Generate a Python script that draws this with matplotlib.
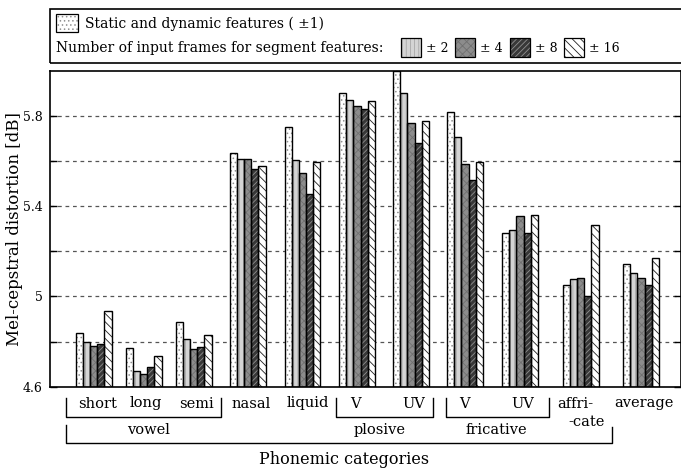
import numpy as np
import matplotlib.pyplot as plt
from matplotlib.patches import Rectangle
from matplotlib.lines import Line2D
import matplotlib.transforms as mtransforms

plt.rcParams['font.family'] = ['DejaVu Serif']
plt.rcParams['hatch.linewidth'] = 0.6

# data
categories = ['short', 'long', 'semi', 'nasal', 'liquid', 'V', 'UV', 'V', 'UV', 'affri-', 'average']
series_labels = ['Static and dynamic features ( \u00b11)', '\u00b1 2', '\u00b1 4', '\u00b1 8', '\u00b1 16']
static_dyn = [4.837, 4.771, 4.886, 5.636, 5.750, 5.902, 5.997, 5.816, 5.279, 5.052, 5.145]
seg_2 = [4.800, 4.670, 4.813, 5.608, 5.602, 5.871, 5.902, 5.704, 5.293, 5.079, 5.104]
seg_4 = [4.781, 4.655, 4.766, 5.608, 5.548, 5.842, 5.766, 5.584, 5.354, 5.082, 5.082]
seg_8 = [4.788, 4.688, 4.776, 5.562, 5.453, 5.828, 5.679, 5.514, 5.279, 5.002, 5.052]
seg_16 = [4.936, 4.736, 4.828, 5.579, 5.597, 5.864, 5.775, 5.593, 5.360, 5.314, 5.168]
ytick_vals = [4.6, 5.0, 5.4, 5.8]
ytick_labels = ['4.6', '5', '5.4', '5.8']

series = [static_dyn, seg_2, seg_4, seg_8, seg_16]

# layout (pixel-like x units on the axis)
W, H = 681, 468
group_x = [44, 94, 144, 198, 253, 307.5, 361.5, 415.5, 470.5, 531, 591.5]
bar_w = 7.2
styles = [
    dict(face='white', hatch='....', hcol='#909090'),
    dict(face='#d4d4d4', hatch='||||', hcol='#a8a8a8'),
    dict(face='#8c8c8c', hatch='xxxx', hcol='#707070'),
    dict(face='#383838', hatch='//////', hcol='#909090'),
    dict(face='white', hatch='\\\\\\\\', hcol='#202020'),
]


def fx(px):
    return px / W


def fy(py):
    return 1 - py / H


fig = plt.figure(figsize=(W / 100, H / 100), dpi=100)
ax = fig.add_axes([fx(49.5), fy(386.7), fx(681) - fx(49.5), fy(70.5) - fy(386.7)])

for i, vals in enumerate(series):
    st = styles[i]
    xs = np.array(group_x) + (i - 2) * bar_w
    ax.bar(xs, np.array(vals) - 4.6, bottom=4.6, width=bar_w, color=st['face'],
           hatch=st['hatch'], edgecolor=st['hcol'], linewidth=0, zorder=2)
    ax.bar(xs, np.array(vals) - 4.6, bottom=4.6, width=bar_w, fill=False,
           edgecolor='black', linewidth=1.0, zorder=3)

ax.set_xlim(0, 631.5)
ax.set_ylim(4.6, 6.0)
ax.set_xticks([])
ax.set_yticks(ytick_vals)
ax.set_yticklabels(ytick_labels, fontsize=9)
ax.set_yticks([4.8, 5.2, 5.6], minor=True)
ax.tick_params(axis='y', which='both', direction='in', length=5, right=True, width=1, pad=5)
for v in [4.8, 5.0, 5.2, 5.4, 5.6, 5.8]:
    ax.axhline(v, color='#555555', linestyle=(0, (3, 3)), linewidth=0.9, zorder=1)
for s in ax.spines.values():
    s.set_linewidth(1.2)

fig.text(fx(15), fy(229), 'Mel-cepstral distortion [dB]', rotation=90,
         ha='center', va='center', fontsize=12)

# legend box
fig.add_artist(Rectangle((fx(49.5), fy(63.3)), fx(690) - fx(49.5), fy(9) - fy(63.3),
                         transform=fig.transFigure, fill=False, edgecolor='black',
                         linewidth=1.2))


def legend_patch(x0, y0, w, h, st):
    fig.add_artist(Rectangle((fx(x0), fy(y0 + h)), fx(w), h / H, transform=fig.transFigure,
                             facecolor=st['face'], hatch=st['hatch'], edgecolor=st['hcol'],
                             linewidth=0))
    fig.add_artist(Rectangle((fx(x0), fy(y0 + h)), fx(w), h / H, transform=fig.transFigure,
                             fill=False, edgecolor='black', linewidth=0.9))


legend_patch(56, 14, 22, 18, styles[0])
fig.text(fx(85), fy(23.5), series_labels[0], ha='left', va='center', fontsize=10)
fig.text(fx(56), fy(48), 'Number of input frames for segment features:', ha='left',
         va='center', fontsize=10)
for k, x0 in enumerate([401, 455, 510, 564]):
    legend_patch(x0, 38, 20, 19, styles[k + 1])
    fig.text(fx(x0 + 25), fy(48), series_labels[k + 1], ha='left', va='center', fontsize=9)

# category labels and brackets below the axis
tr = mtransforms.blended_transform_factory(ax.transData, fig.transFigure)
row1_x = [48, 96.5, 146.5, 202, 258.5, 305.5, 364.5, 414.5, 473, 525.5, 594.5]
for lab, x in zip(categories, row1_x):
    fig.text(x, fy(403.5), lab, transform=tr, ha='center', va='center', fontsize=10.5)
fig.text(537.5, fy(421.5), '-cate', transform=tr, ha='center', va='center', fontsize=10.5)

row2_labels = ['vowel', 'plosive', 'fricative']
row2_x = [98.5, 330.5, 446.5]
for lab, x in zip(row2_labels, row2_x):
    fig.text(x, fy(430), lab, transform=tr, ha='center', va='center', fontsize=10.5)

for x0, x1 in [(16.5, 171.5), (286.5, 383.2), (396.5, 499.8)]:
    fig.add_artist(Line2D([x0, x0, x1, x1], [fy(398), fy(417.3), fy(417.3), fy(398)],
                          transform=tr, color='black', linewidth=1.0))
fig.add_artist(Line2D([16.5, 16.5, 562.8, 562.8], [fy(425), fy(443.3), fy(443.3), fy(427)],
                      transform=tr, color='black', linewidth=1.0))

fig.text(fx(344), fy(459), 'Phonemic categories', ha='center', va='center', fontsize=11.5)

fig.savefig('out.png', dpi=100)
